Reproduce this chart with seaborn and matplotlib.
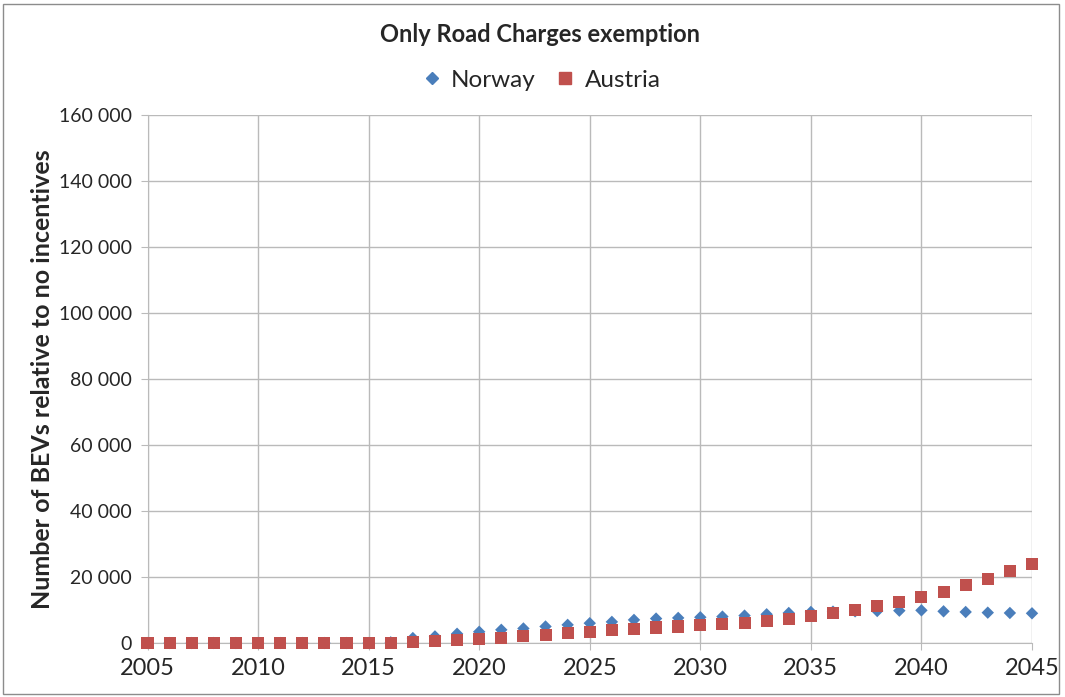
import pandas as pd
import numpy as np
import matplotlib
matplotlib.use("Agg")
import matplotlib.pyplot as plt
import seaborn as sns
from matplotlib.ticker import FuncFormatter

years = list(range(2005, 2046))

# Norway: zero until 2015, then rising and flattening out near 10 000
norway = [0, 0, 0, 0, 0, 0, 0, 0, 0, 0, 0,
          200, 1500, 2000, 2800, 3400, 4000, 4400, 5000, 5500, 6000,
          6400, 7000, 7400, 7600, 7800, 8000, 8300, 8700, 9100, 9400,
          9500, 9600, 9700, 9800, 9900, 9600, 9400, 9200, 9100, 9000]

# Austria: zero until 2016, then grows steadily
austria = [0, 0, 0, 0, 0, 0, 0, 0, 0, 0, 0,
           0, 200, 500, 800, 1200, 1600, 2000, 2500, 2900, 3300,
           3800, 4200, 4700, 5000, 5400, 5800, 6200, 6800, 7400, 8100,
           9100, 10100, 11100, 12500, 13900, 15600, 17500, 19500, 21700, 24000]

data = pd.DataFrame({
    "year": years * 2,
    "bevs": norway + austria,
    "country": ["Norway"] * len(years) + ["Austria"] * len(years),
})

sns.set_style("white")
plt.rcParams["font.family"] = ["Lato", "DejaVu Sans"]

fig = plt.figure(figsize=(10.65, 6.97), dpi=100)
ax = fig.add_axes([147.5 / 1065, 1 - 643 / 697, (1032 - 147.5) / 1065, (643 - 115) / 697])

sns.scatterplot(data=data, x="year", y="bevs", hue="country", style="country",
                palette={"Norway": "#4A7EBB", "Austria": "#C0504D"},
                markers={"Norway": "D", "Austria": "s"},
                size="country", sizes={"Norway": 40, "Austria": 75},
                edgecolor="none", linewidth=0, ax=ax, legend=False, zorder=3, clip_on=False)

ax.set_xlim(2005, 2045)
ax.set_ylim(0, 160000)
ax.set_xticks(range(2005, 2046, 5))
ax.set_yticks(range(0, 160001, 20000))
ax.yaxis.set_major_formatter(FuncFormatter(lambda v, p: f"{int(v):,}".replace(",", " ")))
ax.grid(True, color="#BABABA", linewidth=1)
ax.set_axisbelow(True)
for side in ["top", "right"]:
    ax.spines[side].set_visible(False)
ax.spines["left"].set_color("#BABABA")
ax.spines["bottom"].set_color("#BABABA")
ax.tick_params(axis="x", labelsize=17, length=5, color="#BABABA", pad=6, bottom=True)
ax.tick_params(axis="y", labelsize=14, length=5, color="#BABABA", pad=6, left=True)
ax.set_xlabel("")
ax.set_ylabel("Number of BEVs relative to no incentives", fontsize=18, fontweight="bold", labelpad=4)

fig.text(540 / 1065, 1 - 34 / 697, "Only Road Charges exemption", ha="center", va="center",
         fontsize=17, fontweight="bold")

# legend at the top
handles = [
    plt.Line2D([], [], marker="D", linestyle="", color="#4A7EBB", markersize=6),
    plt.Line2D([], [], marker="s", linestyle="", color="#C0504D", markersize=8),
]
fig.legend(handles, ["Norway", "Austria"], loc="center", bbox_to_anchor=(540 / 1065, 1 - 80 / 697),
           ncol=2, frameon=False, fontsize=17.5, handletextpad=0.3, columnspacing=0.7, handlelength=1)

# chart border
fig.add_artist(plt.Rectangle((3 / 1065, 3 / 697), 1056 / 1065, 690 / 697, transform=fig.transFigure,
                             fill=False, edgecolor="#8C8C8C", linewidth=1))

fig.savefig("out.png", dpi=100)
